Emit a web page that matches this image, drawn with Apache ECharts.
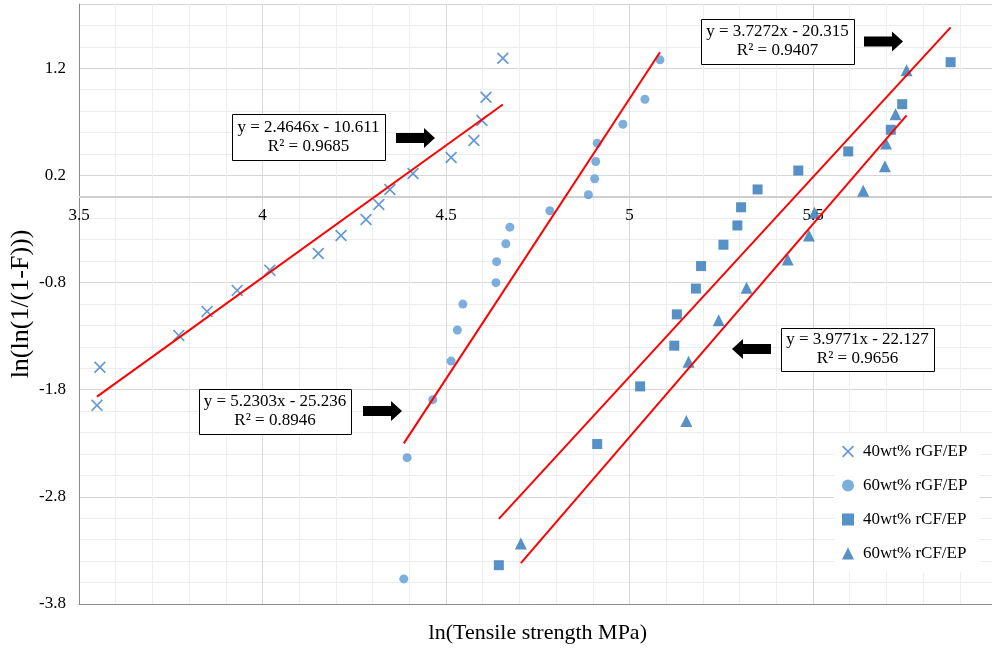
<!DOCTYPE html>
<html><head><meta charset="utf-8">
<script src="https://cdn.jsdelivr.net/npm/echarts@6/dist/echarts.min.js"></script>
<style>html,body{margin:0;padding:0;background:#fff}#c{width:992px;height:649px}</style>
</head><body><div id="c"></div>
<script>
// ---------- data ----------
const seriesNames = ['40wt% rGF/EP', '60wt% rGF/EP', '40wt% rCF/EP', '60wt% rCF/EP'];

const gf40X = [3.549, 3.557, 3.772, 3.849, 3.931, 4.020, 4.152, 4.214, 4.282, 4.317, 4.347, 4.410, 4.514, 4.576, 4.598, 4.609, 4.655];
const gf40Y = [-1.946, -1.591, -1.293, -1.069, -0.873, -0.684, -0.528, -0.360, -0.211, -0.071, 0.069, 0.218, 0.368, 0.526, 0.713, 0.930, 1.293];

const gf60X = [4.385, 4.394, 4.464, 4.514, 4.531, 4.546, 4.636, 4.638, 4.663, 4.674, 4.783, 4.888, 4.905, 4.908, 4.912, 4.982, 5.042, 5.083];
const gf60Y = [-3.566, -2.434, -1.893, -1.533, -1.243, -1.001, -0.801, -0.605, -0.438, -0.283, -0.130, 0.020, 0.169, 0.330, 0.501, 0.678, 0.911, 1.279];

const cf40X = [4.644, 4.912, 5.029, 5.122, 5.129, 5.181, 5.195, 5.256, 5.294, 5.304, 5.349, 5.460, 5.596, 5.712, 5.743, 5.875];
const cf40Y = [-3.438, -2.307, -1.769, -1.389, -1.097, -0.856, -0.646, -0.447, -0.267, -0.097, 0.069, 0.246, 0.424, 0.626, 0.865, 1.257];

const cf60X = [4.704, 5.155, 5.161, 5.243, 5.319, 5.431, 5.489, 5.504, 5.637, 5.696, 5.699, 5.725, 5.755];
const cf60Y = [-3.236, -2.092, -1.540, -1.151, -0.848, -0.584, -0.360, -0.148, 0.057, 0.286, 0.498, 0.771, 1.182];

// trendline equations shown on the chart
const fitSlopes = [2.4646, 5.2303, 3.7272, 3.9771];
const fitIntercepts = [-10.611, -25.236, -20.315, -22.127];
const fitR2 = ['0.9685', '0.8946', '0.9407', '0.9656'];

const xTickLabels = ['3.5', '4', '4.5', '5', '5.5'];
const yTickLabels = ['-3.8', '-2.8', '-1.8', '-0.8', '0.2', '1.2'];

// ---------- build ----------
const xs = [gf40X, gf60X, cf40X, cf60X];
const ys = [gf40Y, gf60Y, cf40Y, cf60Y];
const colors = ['#3F7FC6', '#5B9BD5', '#2E75B6', '#2E75B6'];
const xPath = 'path://M1,0 L5,4 L9,0 L10,1 L6,5 L10,9 L9,10 L5,6 L1,10 L0,9 L4,5 L0,1 Z';
const symbols = [xPath, 'circle', 'rect', 'triangle'];
const sizes = [12, 9, 10, 12];
const Y_MIN = -3.8, Y_MAX = 1.8;

const FONT = '"Liberation Serif", "Times New Roman", serif';

const series = [];
seriesNames.forEach((n, i) => {
  series.push({
    name: n, type: 'scatter', xAxisIndex: 0, yAxisIndex: 1,
    symbol: symbols[i], symbolSize: sizes[i],
    itemStyle: { color: colors[i] },
    data: xs[i].map((x, k) => [x, ys[i][k]]),
    z: 3
  });
});
seriesNames.forEach((n, i) => {
  const x0 = Math.min(...xs[i]), x1 = Math.max(...xs[i]);
  const f = x => fitSlopes[i] * x + fitIntercepts[i];
  const s = {
    name: n + ' fit', type: 'line', xAxisIndex: 0, yAxisIndex: 1,
    symbol: 'none', silent: true,
    lineStyle: { color: '#FF0000', width: 2 },
    data: [[x0, f(x0)], [x1, f(x1)]],
    z: 4
  };
  if (i === 0) {
    // horizontal axis line at y = 0
    s.markLine = {
      silent: true, symbol: 'none', label: { show: false },
      lineStyle: { color: '#cfcfcf', width: 2, type: 'solid' },
      data: [{ yAxis: 0 }], z: 2
    };
  }
  series.push(s);
});

function fmtEq(i) {
  const b = fitIntercepts[i];
  return 'y = ' + fitSlopes[i] + 'x ' + (b < 0 ? '- ' : '+ ') + Math.abs(b).toFixed(3) + '\nR² = ' + fitR2[i];
}

// annotation boxes (pixel layout) and arrows
const boxes = [
  { i: 0, x: 232, y: 114, w: 153, h: 46 },
  { i: 1, x: 199, y: 389, w: 152, h: 45 },
  { i: 2, x: 701, y: 19, w: 153, h: 45 },
  { i: 3, x: 781, y: 328, w: 153, h: 43 }
];
const arrows = [
  { x: 396, y: 138, dir: 1 },
  { x: 363, y: 411, dir: 1 },
  { x: 864, y: 41.5, dir: 1 },
  { x: 771, y: 349, dir: -1 }
];

const graphic = [];
boxes.forEach(b => {
  graphic.push({
    type: 'rect', left: b.x, top: b.y, z: 10,
    shape: { width: b.w, height: b.h },
    style: { fill: '#fff', stroke: '#000', lineWidth: 1 }
  });
  graphic.push({
    type: 'text', x: b.x + b.w / 2, y: b.y + b.h / 2, z: 11,
    style: {
      text: fmtEq(b.i), font: '17px ' + FONT, fill: '#000',
      align: 'center', verticalAlign: 'middle', lineHeight: 19
    }
  });
});
arrows.forEach(a => {
  const L = 39, sh = 28, t = 5, hh = 10;
  const d = a.dir;
  const pts = [
    [a.x, a.y - t], [a.x + d * sh, a.y - t], [a.x + d * sh, a.y - hh],
    [a.x + d * L, a.y], [a.x + d * sh, a.y + hh], [a.x + d * sh, a.y + t], [a.x, a.y + t]
  ];
  graphic.push({ type: 'polygon', z: 10, shape: { points: pts }, style: { fill: '#000' } });
});

const chart = echarts.init(document.getElementById('c'), null, { renderer: 'canvas' });
chart.setOption({
  animation: false,
  backgroundColor: '#fff',
  textStyle: { fontFamily: FONT },
  grid: { left: 79, top: 4, right: -4.5, bottom: 45, containLabel: false, outerBoundsMode: 'none' },
  legend: {
    data: seriesNames.map((n, i) => ({ name: n, icon: symbols[i] })),
    orient: 'vertical', left: 834, top: 433,
    itemWidth: 12, itemHeight: 12, itemGap: 17,
    backgroundColor: '#fff', padding: [10, 12, 10, 8],
    textStyle: { fontFamily: FONT, fontSize: 17, color: '#000', padding: [0, 0, 0, 4] },
    selectedMode: false
  },
  xAxis: [
    {
      type: 'value', position: 'bottom', min: 3.5, max: 6, interval: 0.5,
      axisLine: { onZero: false, lineStyle: { color: '#8a8a8a', width: 1 } },
      axisTick: { show: false },
      axisLabel: {
        margin: -397, showMaxLabel: false,
        fontFamily: FONT, fontSize: 17, color: '#000',
        formatter: v => { const s = xTickLabels.find(t => Math.abs(parseFloat(t) - v) < 1e-6); return s || ''; }
      },
      splitLine: { show: true, lineStyle: { color: '#d9d9d9', width: 1 } },
      minorTick: { show: false, splitNumber: 5 },
      minorSplitLine: { show: true, lineStyle: { color: '#eeeeee', width: 1 } },
      name: 'ln(Tensile strength MPa)', nameLocation: 'middle', nameGap: 18, nameMoveOverlap: false,
      nameTextStyle: { fontFamily: FONT, fontSize: 22, color: '#000', verticalAlign: 'top' }
    }
  ],
  yAxis: [
    {
      type: 'value', position: 'right', min: Y_MIN, max: Y_MAX, interval: 0.2,
      axisLine: { show: false }, axisTick: { show: false }, axisLabel: { show: false },
      splitLine: { show: true, lineStyle: { color: '#ececec', width: 1 } }
    },
    {
      type: 'value', position: 'left', min: Y_MIN, max: Y_MAX, interval: 1,
      axisLine: { show: true, onZero: false, lineStyle: { color: '#8a8a8a', width: 1 } },
      axisTick: { show: false },
      axisLabel: {
        margin: 13, showMaxLabel: false, fontFamily: FONT, fontSize: 17, color: '#000',
        formatter: v => { const s = yTickLabels.find(t => Math.abs(parseFloat(t) - v) < 1e-6); return s || ''; }
      },
      splitLine: { show: true, lineStyle: { color: '#d6d6d6', width: 1 } },
      name: 'ln(ln(1/(1-F)))', nameLocation: 'middle', nameGap: 45, nameRotate: 90, nameMoveOverlap: false,
      nameTextStyle: { fontFamily: FONT, fontSize: 26, color: '#000' }
    }
  ],
  series: series,
  graphic: graphic
});
</script>
</body></html>
